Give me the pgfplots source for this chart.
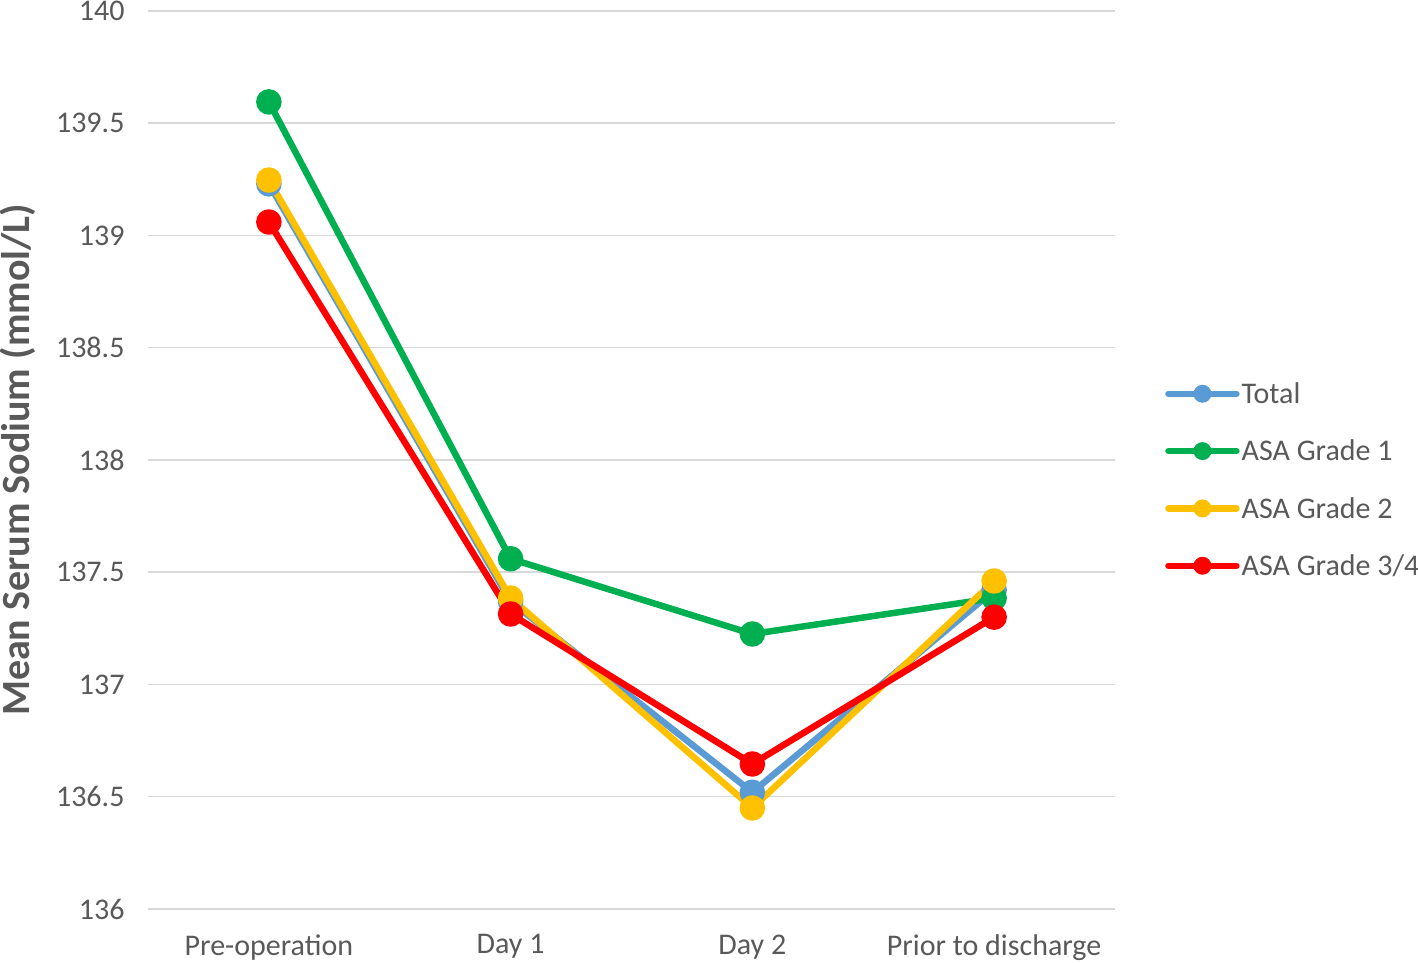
\documentclass[border=0pt]{standalone}
\usepackage{pgfplots}
\pgfplotsset{compat=1.18}
\usepackage{fontspec}
\setmainfont{Carlito}
\definecolor{txt}{HTML}{595959}
\definecolor{gridc}{HTML}{D9D9D9}
\definecolor{ctotal}{HTML}{5B9BD5}
\definecolor{casa1}{HTML}{00B050}
\definecolor{casa2}{HTML}{FFC000}
\definecolor{casa3}{HTML}{FF0000}
\begin{document}
\begin{tikzpicture}
\path[use as bounding box] (-148pt,-54pt) rectangle (1270pt,909pt);
\begin{axis}[
  anchor=south west,
  scale only axis, width=967pt, height=898pt,
  xmin=-0.5, xmax=3.5, ymin=136, ymax=140,
  xtick={0,1,2,3},
  xticklabels={Pre-operation, Day 1, Day 2, Prior to discharge},
  ytick={136,136.5,...,140},
  yticklabels={136,136.5,137,137.5,138,138.5,139,139.5,140},
  axis line style={draw=none},
  tick style={draw=none},
  ymajorgrids, grid style={gridc, line width=1.5pt},
  tick label style={font=\fontsize{30}{34}\selectfont, text=txt},
  xticklabel style={yshift=-22pt},
  yticklabel style={xshift=-20pt},
  ylabel={\textbf{Mean Serum Sodium (mmol/L)}},
  every axis y label/.style={at={(axis description cs:0,0.5)}, xshift=-130pt,
    anchor=center, rotate=90, font=\fontsize{40}{44}\selectfont, text=txt},
  legend style={at={(axis description cs:1.0517,0.478)}, anchor=west, draw=none, fill=none,
    inner sep=0pt, font=\fontsize{30}{34}\selectfont, text=txt, row sep=31pt,
    /tikz/every even column/.append style={column sep=0pt}},
  legend cell align=left,
  legend image code/.code={
    \draw[#1, line width=6.5pt, line cap=round] (0pt,0pt) -- (68pt,0pt);
    \fill[#1, draw=none] (34pt,0pt) circle (9pt);
  },
  every axis plot/.append style={line width=6.5pt, mark=*, mark size=9.5pt, line join=round},
]
\addplot[color=ctotal, mark options={fill=ctotal, draw=ctotal}] coordinates {(0,139.23) (1,137.37) (2,136.52) (3,137.42)};
\addlegendentry{Total}
\addplot[color=casa1, mark options={fill=casa1, draw=casa1}] coordinates {(0,139.595) (1,137.56) (2,137.225) (3,137.385)};
\addlegendentry{ASA Grade 1}
\addplot[color=casa2, mark options={fill=casa2, draw=casa2}] coordinates {(0,139.247) (1,137.385) (2,136.45) (3,137.461)};
\addlegendentry{ASA Grade 2}
\addplot[color=casa3, mark options={fill=casa3, draw=casa3}] coordinates {(0,139.06) (1,137.314) (2,136.646) (3,137.30)};
\addlegendentry{ASA Grade 3/4}
\end{axis}
\end{tikzpicture}
\end{document}
